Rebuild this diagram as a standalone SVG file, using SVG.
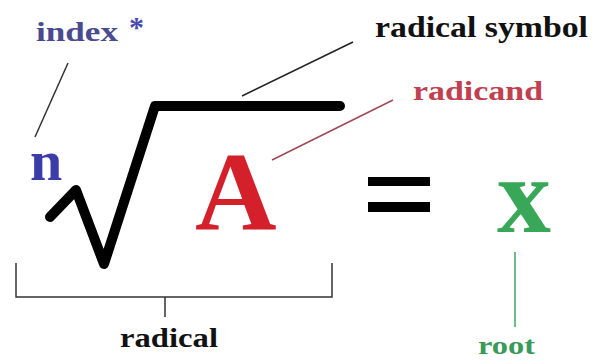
<svg xmlns="http://www.w3.org/2000/svg" width="610" height="360" viewBox="0 0 610 360">
<style>
.t{font-family:"Liberation Serif","Times New Roman",serif;font-weight:bold;}
.lbl{font-size:28px;}
.ln{fill:none;stroke-width:1.5;}
</style>
<rect width="610" height="360" fill="#ffffff"/>
<g id="connectors">
<line class="ln" x1="68" y1="63" x2="35" y2="137" stroke="#333"/>
<line class="ln" x1="242" y1="96" x2="353" y2="42" stroke="#222"/>
<line class="ln" x1="272" y1="160" x2="393" y2="100" stroke="#a04858"/>
<line class="ln" x1="515" y1="252" x2="515" y2="327" stroke="#3aa860"/>
<path class="ln" d="M16,263 V297 H332 V263 M165,297 V317" stroke="#333"/>
</g>
<g id="index">
<text class="t lbl" x="36" y="41" textLength="82" lengthAdjust="spacingAndGlyphs" fill="#4a4a90">index</text>
<text class="t" x="129" y="37" font-size="30" fill="#4a4ab0">*</text>
</g>
<g id="n"><text class="t" x="30" y="180" font-size="58" fill="#3c3ca8">n</text></g>
<g id="radical-symbol-shape">
<path d="M50,217 L76,190 L104,264 L155,106 L340,106" fill="none" stroke="#000" stroke-width="10" stroke-linejoin="round" stroke-linecap="round"/>
</g>
<g id="radical-symbol"><text class="t" x="375" y="37" font-size="30" textLength="213" lengthAdjust="spacingAndGlyphs" fill="#111">radical symbol</text></g>
<g id="radicand"><text class="t lbl" x="413" y="100" textLength="130" lengthAdjust="spacingAndGlyphs" fill="#c04050">radicand</text></g>
<g id="A"><text class="t" x="195" y="230" font-size="113" fill="#d4202a">A</text></g>
<g id="equals">
<rect x="368" y="177" width="62" height="9" fill="#000"/>
<rect x="368" y="202" width="62" height="10" fill="#000"/>
</g>
<g id="x"><text class="t" x="497" y="232" font-size="108" fill="#38a858">x</text></g>
<g id="radical"><text class="t lbl" x="120" y="347" textLength="98" lengthAdjust="spacingAndGlyphs" fill="#111">radical</text></g>
<g id="root"><text class="t" x="478" y="354" font-size="26" textLength="57" lengthAdjust="spacingAndGlyphs" fill="#3a9a5a">root</text></g>
</svg>
